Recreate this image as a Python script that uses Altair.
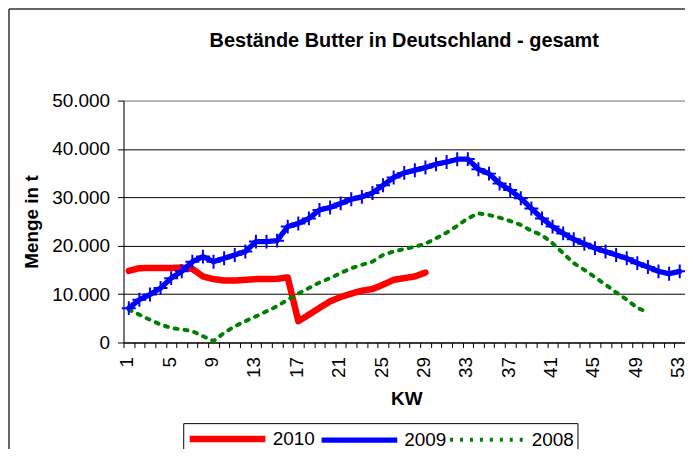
import altair as alt
import pandas as pd

kw = list(range(1, 54))
jahre = ["2010", "2009", "2008"]
farben = ["#FF0000", "#0000FF", "#008000"]
bestand_2010 = [14800, 15350, 15400, 15400, 15400, 15500, 15200, 13650, 13100, 12800,
                12800, 12950, 13100, 13100, 13150, 13450, 4400, 5750, 7150, 8500,
                9400, 10100, 10700, 11050, 11950, 12950, 13300, 13650, 14450]
bestand_2009 = [7100, 8850, 9900, 11250, 13300, 14700, 16700, 17750, 16700, 17400,
                18100, 18800, 20850, 20850, 21050, 23950, 24600, 25650, 27400, 27900,
                28750, 29600, 30100, 30900, 32500, 34100, 35050, 35600, 36150, 36850,
                37300, 37870, 37900, 35800, 34900, 32850, 31500, 29800, 27700, 25650,
                23950, 22550, 21350, 20400, 19500, 18800, 18100, 17400, 16400, 15600,
                14700, 14200, 14700]
bestand_2008 = [6800, 5750, 4700, 3700, 3000, 2700, 2350, 1300, 300, 2000,
                3350, 4400, 5400, 6450, 7500, 8850, 10100, 11250, 12400, 13300,
                14350, 15350, 16050, 16700, 18100, 18800, 19300, 19800, 20400, 21550,
                22700, 24100, 25650, 26700, 26350, 25800, 25100, 24300, 23100, 22200,
                20500, 18450, 16400, 15000, 13500, 11950, 10350, 8850, 7150, 6250]
y_ticks = [0, 10000, 20000, 30000, 40000, 50000]

rows = []
for jahr, werte in zip(jahre, [bestand_2010, bestand_2009, bestand_2008]):
    for k, v in zip(kw, werte):
        rows.append({"KW": k, "Menge": v, "Jahr": jahr})
df = pd.DataFrame(rows)

FONT = "Liberation Sans"

x_axis = alt.Axis(
    title="KW", titleFont=FONT, titleFontSize=19, titleFontWeight="bold", titleColor="black",
    titleX=284, titleY=62, titleBaseline="alphabetic", titleAlign="center", titleAnchor="start",
    labelExpr="(datum.value - 1) % 4 == 0 ? datum.label : ''",
    labelAngle=270, labelFont=FONT, labelFontSize=19, labelColor="black",
    labelPadding=9, labelOverlap=False, labelOffset=-2,
    tickBand="extent", tickSize=5, tickColor="black", domainColor="black", grid=False,
)
y_axis = alt.Axis(
    title="Menge in t", titleFont=FONT, titleFontSize=19, titleFontWeight="bold", titleColor="black",
    titlePadding=10,
    values=y_ticks, labelExpr="replace(format(datum.value, ','), ',', '.')",
    labelFont=FONT, labelFontSize=19, labelColor="black", labelPadding=8,
    tickSize=6, tickColor="black", domainColor="black",
    grid=True,
    gridColor={"condition": {"test": "datum.value >= 50000", "value": "#808080"}, "value": "black"},
)

x_enc = alt.X("KW:O", scale=alt.Scale(type="band", domain=kw, paddingInner=0, paddingOuter=0),
              bandPosition=0.5, axis=x_axis)
y_enc = alt.Y("Menge:Q", scale=alt.Scale(domain=[0, 50000], nice=False), axis=y_axis)

legend = alt.Legend(
    title=None, orient="none", legendX=60, legendY=324, direction="horizontal",
    symbolType="M-1,0L7,0", symbolSize=361, labelFont=FONT, labelFontSize=19, labelColor="black",
    strokeColor="black", padding=3, columnPadding=-5, labelOffset=61,
)

lines = alt.Chart(df).mark_line(strokeCap="round", strokeJoin="round").encode(
    x=x_enc,
    y=y_enc,
    color=alt.Color("Jahr:N", scale=alt.Scale(domain=jahre, range=farben), legend=legend),
    strokeDash=alt.StrokeDash("Jahr:N", scale=alt.Scale(domain=jahre, range=[[1, 0], [1, 0], [3, 7]]), legend=legend),
    strokeWidth=alt.StrokeWidth("Jahr:N", scale=alt.Scale(domain=jahre, range=[6.5, 4, 2]), legend=legend),
)

points = alt.Chart(df).transform_filter(alt.datum.Jahr == "2009").mark_point(
    shape="M-1,0L1,0M0,-1L0,1", filled=False, size=196, strokeWidth=2, color="#0000FF", opacity=1
).encode(x=x_enc, y=y_enc)

rand = pd.DataFrame({"a": [0]})
rahmen_links = alt.Chart(rand).mark_rule(stroke="#333333", strokeWidth=1.5).encode(
    x=alt.value(-115), y=alt.value(-92), y2=alt.value(360))
rahmen_oben = alt.Chart(rand).mark_rule(stroke="#333333", strokeWidth=1.5).encode(
    x=alt.value(-115), x2=alt.value(575), y=alt.value(-92))

chart = alt.layer(rahmen_links, rahmen_oben, lines, points).properties(
    width=564, height=243,
    title=alt.TitleParams("Bestände Butter in Deutschland - gesamt", font=FONT, fontSize=20,
                          fontWeight="bold", color="black", anchor="middle", frame="group",
                          baseline="alphabetic", offset=0, dy=59),
    autosize=alt.AutoSizeParams(type="none"),
    padding={"left": 116, "top": 92, "right": 0, "bottom": 106},
).configure_view(stroke="#808080", strokeWidth=2).configure(background="white")

chart.save("out.html", embed_options={"renderer": "svg", "actions": False})
